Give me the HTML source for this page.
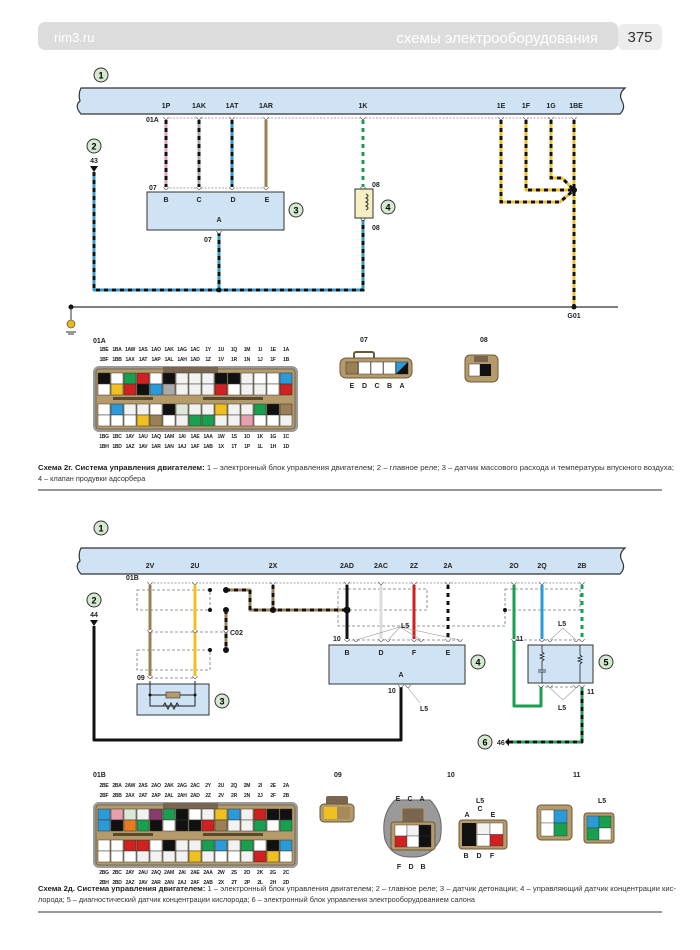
<!DOCTYPE html>
<html><head><meta charset="utf-8"><style>
html,body{margin:0;padding:0;background:#fff;}
svg{display:block;font-family:"Liberation Sans","DejaVu Sans",sans-serif;}
.t{font-size:7px;font-weight:bold;fill:#222;}
.cl{font-size:5px;font-weight:bold;fill:#222;letter-spacing:-0.25px;}
.cap{font-size:7.3px;fill:#333;}
</style></head><body>
<svg id="s" width="700" height="950" viewBox="0 0 700 950" xmlns="http://www.w3.org/2000/svg">
<rect x="38" y="22" width="580" height="28" rx="7" fill="#dcdcdc"/>
<text x="54" y="42" font-size="13" fill="#fff">rim3.ru</text>
<text x="598" y="43" font-size="15" fill="#fff" text-anchor="end">схемы электрооборудования</text>
<rect x="618" y="24" width="44" height="26" rx="6" fill="#ececec"/>
<text x="640" y="42" font-size="15" fill="#333" text-anchor="middle">375</text>

<circle cx="101" cy="75" r="7" fill="#d5e8d0" stroke="#333" stroke-width="1"/><text x="101" y="78.5" font-size="9" text-anchor="middle" font-weight="bold">1</text>
<path d="M81 88 L625 88 Q618 94 622 101 Q626 108 620 114 L81 114 Q74 106 80 101 Q78 94 81 88Z" fill="#cfe3f5" stroke="#333" stroke-width="1.2"/>
<g class="t" text-anchor="middle">
<text x="166" y="108">1P</text><text x="199" y="108">1AK</text><text x="232" y="108">1AT</text><text x="266" y="108">1AR</text><text x="363" y="108">1K</text>
<text x="501" y="108">1E</text><text x="526" y="108">1F</text><text x="551" y="108">1G</text><text x="576" y="108">1BE</text>
</g>
<line x1="166" y1="118" x2="576" y2="118" stroke="#888" stroke-dasharray="2,1.5" stroke-width="0.8"/>
<text x="146" y="122" class="t">01A</text>
<line x1="166" y1="188" x2="266" y2="188" stroke="#888" stroke-dasharray="2,1.5" stroke-width="0.8"/>
<text x="149" y="190" class="t">07</text>
<g id="w1"></g>
<rect x="147" y="192" width="137" height="38" fill="#cfe3f5" stroke="#333" stroke-width="1"/>
<g class="t" text-anchor="middle"><text x="166" y="202">B</text><text x="199" y="202">C</text><text x="233" y="202">D</text><text x="267" y="202">E</text><text x="219" y="222">A</text></g>
<circle cx="296" cy="210" r="7" fill="#d5e8d0" stroke="#333"/><text x="296" y="213.5" font-size="9" text-anchor="middle" font-weight="bold">3</text>
<text x="204" y="242" class="t">07</text>
<rect x="355" y="189" width="18" height="29" fill="#f6efc4" stroke="#333"/>
<path d="M366 194 q4 2 0 4 q4 2 0 4 q4 2 0 4 q4 2 0 4" fill="none" stroke="#333" stroke-width="1"/>
<text x="372" y="187" class="t">08</text><text x="372" y="230" class="t">08</text>
<circle cx="388" cy="207" r="7" fill="#d5e8d0" stroke="#333"/><text x="388" y="210.5" font-size="9" text-anchor="middle" font-weight="bold">4</text>
<circle cx="94" cy="146" r="7" fill="#d5e8d0" stroke="#333"/><text x="94" y="149.5" font-size="9" text-anchor="middle" font-weight="bold">2</text>
<text x="94" y="163" class="t" text-anchor="middle">43</text>
<path d="M90 166 L98 166 L94 172Z" fill="#111"/>
<line x1="71" y1="307" x2="618" y2="307" stroke="#333" stroke-width="1.2"/>
<circle cx="71" cy="307" r="2.5" fill="#111"/><line x1="71" y1="307" x2="71" y2="320" stroke="#333"/>
<circle cx="71" cy="324" r="4" fill="#e8b820" stroke="#333" stroke-width="0.6"/>
<line x1="66" y1="332" x2="76" y2="332" stroke="#333"/><line x1="68" y1="334" x2="74" y2="334" stroke="#333"/>
<circle cx="574" cy="307" r="2.5" fill="#111"/>
<text x="574" y="318" class="t" text-anchor="middle">G01</text>
<circle cx="219" cy="290" r="2.5" fill="#111"/>
<circle cx="574" cy="190" r="3" fill="#111"/>

<text x="93" y="343" class="t">01A</text>
<g id="c1"></g>
<text x="360" y="342" class="t">07</text>
<g id="c07"></g>
<text x="480" y="342" class="t">08</text>
<g id="c08"></g>

<text y="470" class="cap" textLength="636" lengthAdjust="spacingAndGlyphs" x="38"><tspan font-weight="bold" fill="#222">Схема 2г. Система управления двигателем:</tspan> 1 – электронный блок управления двигателем; 2 – главное реле; 3 – датчик массового расхода и температуры впускного воздуха;</text>
<text x="38" y="481" class="cap">4 – клапан продувки адсорбера</text>
<line x1="38" y1="490" x2="662" y2="490" stroke="#777" stroke-width="1.5"/>

<circle cx="101" cy="528" r="7" fill="#d5e8d0" stroke="#333"/><text x="101" y="531.5" font-size="9" text-anchor="middle" font-weight="bold">1</text>
<path d="M81 548 L625 548 Q618 554 622 561 Q626 568 620 574 L81 574 Q74 566 80 561 Q78 554 81 548Z" fill="#cfe3f5" stroke="#333" stroke-width="1.2"/>
<g class="t" text-anchor="middle">
<text x="150" y="568">2V</text><text x="195" y="568">2U</text><text x="273" y="568">2X</text><text x="347" y="568">2AD</text><text x="381" y="568">2AC</text>
<text x="414" y="568">2Z</text><text x="448" y="568">2A</text><text x="514" y="568">2O</text><text x="542" y="568">2Q</text><text x="582" y="568">2B</text>
</g>
<line x1="150" y1="583" x2="582" y2="583" stroke="#888" stroke-dasharray="2,1.5" stroke-width="0.8"/>
<text x="126" y="580" class="t">01B</text>
<g fill="none" stroke="#777" stroke-dasharray="3,2" stroke-width="0.8">
<rect x="137" y="590" width="73" height="20"/><rect x="137" y="650" width="73" height="20"/>
<line x1="150" y1="632" x2="226" y2="632"/>
<path d="M338 589 H427 V610 H338Z"/><path d="M338 610 V626 H505 V610"/>
<rect x="505" y="589" width="75" height="21"/>
<line x1="347" y1="640" x2="461" y2="640"/><line x1="514" y1="640" x2="582" y2="640"/>
<line x1="150" y1="678" x2="195" y2="678"/><line x1="540" y1="687" x2="580" y2="687"/>
</g>
<g id="w2"></g>
<g fill="#111"><circle cx="210" cy="590" r="2"/><circle cx="210" cy="610" r="2"/><circle cx="210" cy="650" r="2"/><circle cx="505" cy="610" r="2"/>
<circle cx="226" cy="590" r="3"/><circle cx="226" cy="610" r="3"/><circle cx="226" cy="650" r="3"/><circle cx="273" cy="610" r="3"/><circle cx="347" cy="610" r="3.5"/></g>
<text x="230" y="635" class="t">C02</text>
<text x="137" y="680" class="t">09</text>
<circle cx="94" cy="600" r="7" fill="#d5e8d0" stroke="#333"/><text x="94" y="603.5" font-size="9" text-anchor="middle" font-weight="bold">2</text>
<text x="94" y="617" class="t" text-anchor="middle">44</text>
<path d="M90 620 L98 620 L94 626Z" fill="#111"/>
<rect x="137" y="684" width="72" height="31" fill="#cfe3f5" stroke="#333"/>
<g fill="none" stroke="#222" stroke-width="1"><path d="M150 681 V706 H195 V681"/><line x1="150" y1="695" x2="166" y2="695"/><line x1="180" y1="695" x2="195" y2="695"/>
<path d="M163 706 l2 -3 l3 6 l3 -6 l3 6 l3 -6 l2 3"/></g>
<rect x="166" y="692" width="14" height="6" fill="#b59a6a" stroke="#333" stroke-width="0.6"/>
<circle cx="150" cy="695" r="1.5" fill="#111"/><circle cx="195" cy="695" r="1.5" fill="#111"/>
<circle cx="222" cy="701" r="7" fill="#d5e8d0" stroke="#333"/><text x="222" y="704.5" font-size="9" text-anchor="middle" font-weight="bold">3</text>
<rect x="329" y="645" width="136" height="39" fill="#cfe3f5" stroke="#333"/>
<g class="t" text-anchor="middle"><text x="347" y="655">B</text><text x="381" y="655">D</text><text x="414" y="655">F</text><text x="448" y="655">E</text><text x="401" y="677">A</text></g>
<text x="333" y="641" class="t">10</text><text x="388" y="693" class="t">10</text>
<circle cx="478" cy="662" r="7" fill="#d5e8d0" stroke="#333"/><text x="478" y="665.5" font-size="9" text-anchor="middle" font-weight="bold">4</text>
<g stroke="#999" stroke-width="0.6" fill="none"><path d="M356 640 L400 627 L388 640 M400 627 L421 640 M400 627 L460 640"/><path d="M408 688 L420 703"/>
<path d="M550 640 L563 628 L576 640"/><path d="M550 688 L563 700 L576 688"/></g>
<text x="401" y="628" class="t">L5</text><text x="420" y="711" class="t">L5</text>
<text x="558" y="626" class="t">L5</text><text x="558" y="710" class="t">L5</text>
<rect x="528" y="645" width="65" height="38" fill="#cfe3f5" stroke="#333"/>
<g fill="none" stroke="#222" stroke-width="0.8"><path d="M542 645 V652 l2 1.5 l-4 1.5 l4 1.5 l-4 1.5 l4 1.5 l-2 1.5 V670 M538 670 H546 M538 672 H546 M542 672 V683"/>
<path d="M580 645 V655 l2 1.5 l-4 1.5 l4 1.5 l-4 1.5 l4 1.5 l-2 1.5 V683"/></g>
<text x="516" y="641" class="t">11</text><text x="587" y="694" class="t">11</text>
<circle cx="606" cy="662" r="7" fill="#d5e8d0" stroke="#333"/><text x="606" y="665.5" font-size="9" text-anchor="middle" font-weight="bold">5</text>
<circle cx="485" cy="742" r="7" fill="#d5e8d0" stroke="#333"/><text x="485" y="745.5" font-size="9" text-anchor="middle" font-weight="bold">6</text>
<text x="497" y="745" class="t">46</text>
<path d="M509 738 L509 746 L505 742Z" fill="#111"/>

<text x="93" y="777" class="t">01B</text>
<g id="c2"></g>
<text x="334" y="777" class="t">09</text>
<text x="447" y="777" class="t">10</text>
<text x="573" y="777" class="t">11</text>
<text x="476" y="803" class="t">L5</text>
<text x="598" y="803" class="t">L5</text>
<g id="cx"></g>

<text y="891" class="cap" x="38" textLength="638" lengthAdjust="spacingAndGlyphs"><tspan font-weight="bold" fill="#222">Схема 2д. Система управления двигателем:</tspan> 1 – электронный блок управления двигателем; 2 – главное реле; 3 – датчик детонации; 4 – управляющий датчик концентрации кис-</text>
<text x="38" y="902" class="cap">лорода; 5 – диагностический датчик концентрации кислорода; 6 – электронный блок управления электрооборудованием салона</text>
<line x1="38" y1="912" x2="662" y2="912" stroke="#777" stroke-width="1.5"/>
</svg>
<script>
const NS="http://www.w3.org/2000/svg";
function el(p,tag,a,txt){const e=document.createElementNS(NS,tag);for(const k in a)e.setAttribute(k,a[k]);if(txt!==undefined)e.textContent=txt;p.appendChild(e);return e;}
function wire(g,d,c1,c2,w){w=w||3;el(g,'path',{d:d,fill:'none',stroke:c1,'stroke-width':w,'stroke-linejoin':'round'});
 if(c2)el(g,'path',{d:d,fill:'none',stroke:c2,'stroke-width':w,'stroke-dasharray':'4,4'});}
function pin(g,x,y){el(g,'path',{d:`M${x-2.5} ${y-2} Q${x} ${y+3} ${x+2.5} ${y-2}`,fill:'#fff',stroke:'#555','stroke-width':0.7});}
const w1=document.getElementById('w1');
const K='#111',B='#2a9ad8',Y='#f0c020',G='#18a050',BR='#9b7f55';
wire(w1,'M166 120 V188','#e8a0b0',K);wire(w1,'M199 120 V188','#aaa',K);wire(w1,'M232 120 V188',B,K);wire(w1,'M266 120 V188',BR);
wire(w1,'M363 120 V188','#fff',G);
wire(w1,'M94 172 V290 H363 V218',B,K);wire(w1,'M219 232 V290',B,K);
wire(w1,'M501 120 V202 H560 L574 190',Y,K);wire(w1,'M526 120 V190 H574',Y,K);wire(w1,'M551 120 V178 H562 L574 190',Y,K);wire(w1,'M574 120 V307',Y,K);
[166,199,232,266,363,501,526,551,574].forEach(x=>pin(w1,x,119));[166,199,232,266].forEach(x=>pin(w1,x,189));pin(w1,363,189);pin(w1,363,220);pin(w1,219,233);
const w2=document.getElementById('w2');
wire(w2,'M150 585 V678',BR);wire(w2,'M195 585 V678',Y);
wire(w2,'M226 590 H250 V610 H347',BR,K);wire(w2,'M273 585 V610',BR,K);wire(w2,'M226 610 V650',BR,K);
wire(w2,'M347 585 V640',K);wire(w2,'M381 585 V640','#ddd');wire(w2,'M414 585 V640','#d02020');wire(w2,'M448 585 V640','#fff',K);
wire(w2,'M514 585 V706 H541 V687',G);wire(w2,'M542 585 V640',B);wire(w2,'M582 585 V640','#fff',G);
wire(w2,'M582 687 V742 H509',K,G);wire(w2,'M94 626 V740 H401 V687',K);
[150,195,273,347,381,414,448,514,542,582].forEach(x=>pin(w2,x,584));[150,195,226].forEach(x=>pin(w2,x,632));pin(w2,150,678);pin(w2,195,678);
[347,356,381,388,414,421,448,460,514,542,550,576,582].forEach(x=>pin(w2,x,641));[401,408,541,550,576,582].forEach(x=>pin(w2,x,687));
function conn(id,x0,y0,top,bot,colors){const g=document.getElementById(id);
 top.forEach((r,i)=>r.forEach((t,j)=>el(g,'text',{x:x0+11+j*13,y:y0-18+i*10,class:'cl','text-anchor':'middle'},t)));
 el(g,'rect',{x:x0,y:y0-3,width:205,height:66,rx:6,fill:'#9a9a9a'});
 el(g,'rect',{x:x0+3,y:y0,width:199,height:60,rx:3,fill:'#b59a6a',stroke:'#6b5a3a','stroke-width':0.8});
 el(g,'rect',{x:x0+70,y:y0-2,width:55,height:6,fill:'#7a6650'});
 el(g,'rect',{x:x0+20,y:y0+28,width:40,height:3,fill:'#5a4a30'});el(g,'rect',{x:x0+110,y:y0+28,width:60,height:3,fill:'#5a4a30'});
 const ry=[y0+4,y0+15,y0+35,y0+46];
 ry.forEach((yy,ri)=>{for(let j=0;j<15;j++){const c=(colors[ri]&&colors[ri][j])||'#f2f2f2';el(g,'rect',{x:x0+5+j*13,y:yy,width:12,height:11,fill:c,stroke:'#333','stroke-width':0.5});}});
 bot.forEach((r,i)=>r.forEach((t,j)=>el(g,'text',{x:x0+11+j*13,y:y0+69+i*10,class:'cl','text-anchor':'middle'},t)));}
const k='#111',w='#fff',l='#f2f2f2';
conn('c1',93,369,[['1BE','1BA','1AW','1AS','1AO','1AK','1AG','1AC','1Y','1U','1Q','1M','1I','1E','1A'],['1BF','1BB','1AX','1AT','1AP','1AL','1AH','1AD','1Z','1V','1R','1N','1J','1F','1B']],
 [['1BG','1BC','1AY','1AU','1AQ','1AM','1AI','1AE','1AA','1W','1S','1O','1K','1G','1C'],['1BH','1BD','1AZ','1AV','1AR','1AN','1AJ','1AF','1AB','1X','1T','1P','1L','1H','1D']],
 [[k,w,G,'#d02020',w,k,l,l,l,k,k,l,w,w,B],[w,Y,'#d02020',k,B,'#aaa',l,l,l,'#d02020',w,l,l,w,'#d02020'],[w,B,l,l,w,k,'#dde8dd',l,l,Y,l,l,G,k,BR],[w,w,w,Y,BR,w,l,G,G,l,l,'#e8a0b0',w,w,l]]);
conn('c2',93,805,[['2BE','2BA','2AW','2AS','2AO','2AK','2AG','2AC','2Y','2U','2Q','2M','2I','2E','2A'],['2BF','2BB','2AX','2AT','2AP','2AL','2AH','2AD','2Z','2V','2R','2N','2J','2F','2B']],
 [['2BG','2BC','2AY','2AU','2AQ','2AM','2AI','2AE','2AA','2W','2S','2O','2K','2G','2C'],['2BH','2BD','2AZ','2AV','2AR','2AN','2AJ','2AF','2AB','2X','2T','2P','2L','2H','2D']],
 [[B,'#e8a0b0','#d8e8d8',l,'#8b3a6b',G,k,w,l,Y,B,l,'#d02020',k,k],[B,k,'#e87a20',G,k,w,k,k,'#d02020',BR,l,l,G,w,G],[w,w,'#d02020','#d02020',w,k,l,l,G,B,l,G,w,k,B],[w,w,w,l,l,l,l,Y,l,w,w,l,'#d02020',Y,w]]);
const c07=document.getElementById('c07');
el(c07,'rect',{x:354,y:352,width:20,height:8,rx:2,fill:'none',stroke:'#6b5a3a','stroke-width':2});
el(c07,'rect',{x:340,y:358,width:72,height:20,rx:6,fill:'#b59a6a',stroke:'#6b5a3a'});
[BR,w,w,w,B].forEach((c,i)=>el(c07,'rect',{x:346+i*12.5,y:362,width:12,height:12,fill:c,stroke:'#333','stroke-width':0.5}));
el(c07,'path',{d:'M396 374 L408 362 L408 374Z',fill:k});
['E','D','C','B','A'].forEach((t,i)=>el(c07,'text',{x:352+i*12.5,y:388,class:'t','text-anchor':'middle'},t));
const c08=document.getElementById('c08');
el(c08,'rect',{x:465,y:355,width:33,height:27,rx:5,fill:'#b59a6a',stroke:'#6b5a3a'});
el(c08,'rect',{x:474,y:356,width:14,height:6,fill:'#7a6650'});
el(c08,'rect',{x:469,y:364,width:11,height:12,fill:w,stroke:'#333','stroke-width':0.5});el(c08,'rect',{x:480,y:364,width:11,height:12,fill:k});
const cx=document.getElementById('cx');
el(cx,'rect',{x:326,y:796,width:22,height:10,rx:2,fill:'#7a6650'});
el(cx,'rect',{x:320,y:804,width:34,height:18,rx:4,fill:'#b59a6a',stroke:'#6b5a3a'});
el(cx,'rect',{x:324,y:807,width:13,height:12,fill:Y});el(cx,'rect',{x:337,y:807,width:13,height:12,fill:'#a88a5a'});
el(cx,'path',{d:'M395 800 H430 Q445 815 440 840 Q430 858 412 857 Q392 858 385 840 Q380 815 395 800Z',fill:'#9a9a9a',stroke:'#666'});
['E','C','A'].forEach((t,i)=>el(cx,'text',{x:398+i*12,y:801,class:'t','text-anchor':'middle'},t));
el(cx,'rect',{x:402,y:808,width:22,height:14,fill:'#7a6650',stroke:'#b59a6a'});
el(cx,'rect',{x:391,y:822,width:44,height:28,rx:3,fill:'#b59a6a',stroke:'#6b5a3a'});
[[w,l,k],['#d02020',w,k]].forEach((r,i)=>r.forEach((c,j)=>el(cx,'rect',{x:395+j*12,y:825+i*11,width:12,height:11,fill:c,stroke:'#333','stroke-width':0.4})));
['F','D','B'].forEach((t,i)=>el(cx,'text',{x:399+i*12,y:869,class:'t','text-anchor':'middle'},t));
['A','C','E'].forEach((t,i)=>el(cx,'text',{x:467+i*13,y:i==1?811:817,class:'t','text-anchor':'middle'},t));
el(cx,'rect',{x:459,y:820,width:48,height:29,rx:3,fill:'#b59a6a',stroke:'#6b5a3a'});
el(cx,'rect',{x:462,y:823,width:14,height:23,fill:k});
[[l,w],[w,'#d02020']].forEach((r,i)=>r.forEach((c,j)=>el(cx,'rect',{x:477+j*13,y:823+i*11.5,width:13,height:11.5,fill:c,stroke:'#333','stroke-width':0.4})));
['B','D','F'].forEach((t,i)=>el(cx,'text',{x:466+i*13,y:858,class:'t','text-anchor':'middle'},t));
el(cx,'rect',{x:537,y:805,width:35,height:35,rx:4,fill:'#b59a6a',stroke:'#6b5a3a'});
[[w,B],[w,G]].forEach((r,i)=>r.forEach((c,j)=>el(cx,'rect',{x:541+j*13,y:810+i*13,width:13,height:13,fill:c,stroke:'#333','stroke-width':0.4})));
el(cx,'rect',{x:584,y:813,width:30,height:30,rx:3,fill:'#b59a6a',stroke:'#6b5a3a'});
[[B,G],[G,w]].forEach((r,i)=>r.forEach((c,j)=>el(cx,'rect',{x:587+j*12,y:816+i*12,width:12,height:12,fill:c,stroke:'#333','stroke-width':0.4})));
</script>
</body></html>
